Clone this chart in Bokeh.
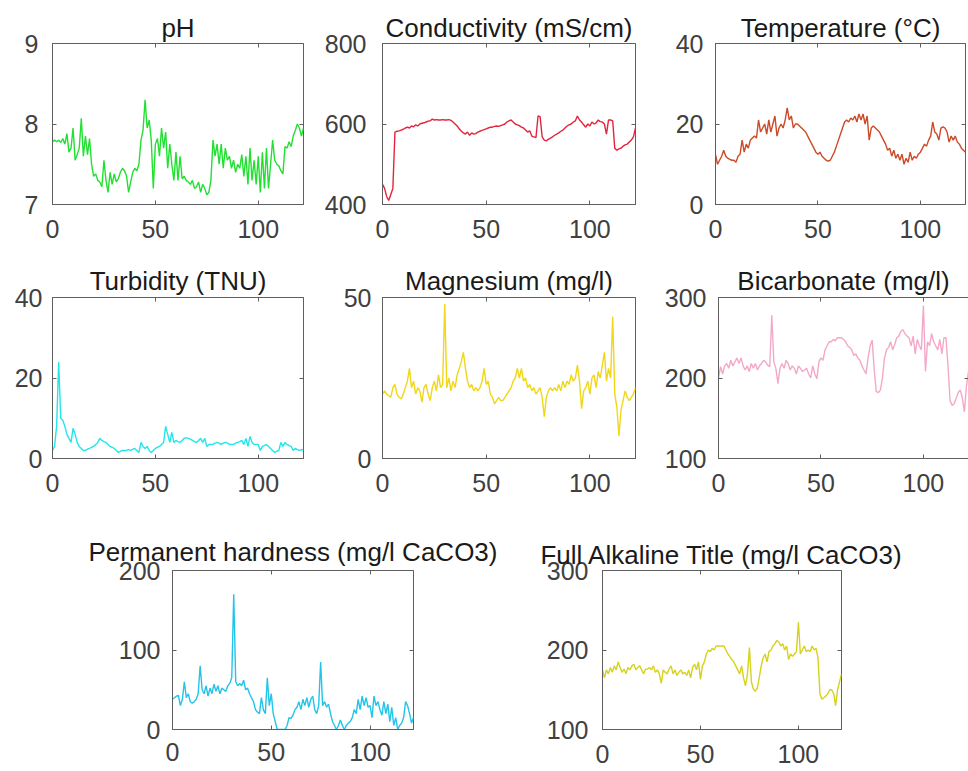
from bokeh.plotting import figure
from bokeh.layouts import column, row
from bokeh.models import FixedTicker, Range1d, LinearAxis, CustomJSTickFormatter
from bokeh.embed import file_html
from bokeh.resources import INLINE

x = list(range(123))

ph = [7.78, 7.80, 7.78, 7.80, 7.77, 7.82, 7.75, 7.88, 7.65, 7.70, 7.95, 7.55, 7.62, 7.70, 8.07, 7.60,
      7.85, 7.62, 7.82, 7.50, 7.35, 7.38, 7.30, 7.28, 7.22, 7.55, 7.30, 7.15, 7.40, 7.25, 7.38, 7.28,
      7.32, 7.40, 7.45, 7.42, 7.35, 7.15, 7.28, 7.40, 7.45, 7.42, 7.50, 7.80, 7.92, 8.30, 7.95, 8.05,
      7.80, 7.20, 7.75, 7.82, 7.60, 7.95, 7.70, 7.90, 7.45, 7.75, 7.50, 7.30, 7.65, 7.30, 7.60, 7.32,
      7.35, 7.30, 7.28, 7.25, 7.30, 7.20, 7.22, 7.28, 7.15, 7.25, 7.20, 7.12, 7.15, 7.30, 7.80, 7.60,
      7.75, 7.50, 7.75, 7.45, 7.70, 7.55, 7.60, 7.45, 7.55, 7.40, 7.50, 7.45, 7.62, 7.35, 7.60, 7.25,
      7.70, 7.30, 7.55, 7.25, 7.60, 7.15, 7.65, 7.20, 7.70, 7.20, 7.50, 7.80, 7.55, 7.50, 7.48, 7.42,
      7.38, 7.72, 7.70, 7.78, 7.72, 7.85, 7.92, 8.00, 7.95, 7.85, 7.95]

conductivity = [450, 440, 420, 410, 425, 440, 580, 582, 583, 585, 587, 590, 592, 590, 595, 593,
                598, 595, 600, 602, 603, 605, 607, 608, 612, 610, 611, 610, 610, 611, 610, 610,
                611, 609, 605, 600, 595, 588, 582, 578, 575, 580, 572, 578, 575, 576, 580, 582,
                584, 586, 588, 590, 592, 592, 594, 595, 594, 596, 598, 600, 605, 608, 610, 605,
                600, 598, 596, 592, 590, 585, 580, 583, 570, 568, 566, 620, 618, 568, 560, 558,
                562, 565, 568, 572, 575, 578, 582, 585, 590, 595, 598, 600, 605, 608, 620, 610,
                605, 598, 592, 600, 595, 605, 600, 603, 610, 606, 605, 600, 575, 610, 610, 608,
                540, 535, 538, 540, 545, 548, 550, 555, 560, 568, 590]

temperature = [12.4, 10.0, 11.0, 12.0, 13.5, 12.0, 11.5, 11.2, 11.0, 11.0, 10.5, 12.0, 12.5, 16.0,
               13.0, 15.0, 14.0, 16.0, 16.5, 17.0, 16.5, 21.0, 18.0, 19.0, 20.0, 17.5, 21.0, 18.0,
               20.0, 22.0, 17.0, 19.0, 20.0, 19.0, 21.0, 24.0, 21.0, 22.0, 19.0, 20.0, 20.0, 19.5,
               19.0, 18.5, 18.0, 17.0, 16.0, 15.0, 14.0, 13.0, 12.5, 13.0, 12.0, 11.5, 11.0, 10.8,
               11.0, 12.0, 13.0, 14.5, 16.0, 17.5, 19.0, 20.5, 21.0, 20.5, 21.5, 21.0, 22.0, 20.5,
               22.5, 21.0, 22.5, 20.0, 22.0, 16.0, 19.0, 19.5, 19.0, 18.5, 18.0, 17.0, 16.0, 15.0,
               13.5, 14.0, 12.0, 13.5, 11.5, 12.5, 11.0, 12.5, 10.0, 11.5, 10.5, 13.0, 11.0, 12.0,
               11.5, 12.5, 13.0, 14.0, 15.0, 14.5, 16.0, 17.0, 20.5, 18.0, 17.5, 16.0, 19.0, 19.3,
               19.0, 18.0, 15.5, 17.0, 16.0, 17.0, 15.5, 15.0, 14.0, 13.5, 13.0]

turbidity = [2, 3, 8, 24, 10, 9.5, 8, 6, 5, 4, 7.5, 6, 4, 3, 2.5, 2, 2, 2.3, 2.5, 2.8, 3, 3.5, 4, 5,
             4.5, 4.2, 4, 3.5, 3, 2.8, 2.5, 2, 1.5, 1.8, 2, 2, 2, 2.2, 2, 2.3, 2.5, 2, 1.5, 4, 3,
             2.5, 3, 2, 1.5, 2, 2.5, 2.8, 3, 3.5, 4, 8, 6, 4, 6.5, 4, 4.5, 4.2, 4, 4.5, 5, 5.2, 5,
             4.8, 4.5, 4.2, 4, 4.5, 5, 4, 5, 3, 3.5, 3.5, 3.5, 3.8, 4, 3.8, 3.5, 3.8, 4, 3.8, 3.5,
             3.5, 3.5, 3.8, 4, 4.2, 4.5, 3.5, 5, 3, 5.5, 4, 3.5, 3.5, 3.5, 2, 3, 3.2, 3.5, 3, 2.5,
             2, 1.5, 1.8, 2, 4, 3, 4, 3.5, 3.2, 3, 2, 2.5, 2.2, 2, 2.2, 2]

magnesium = [20, 21, 20, 19.5, 19, 22, 23, 20, 19, 18.5, 20, 22, 24, 28, 22, 24, 20, 22, 21, 17.5,
             22, 23, 20, 18, 22, 24, 21, 26, 22, 23, 48, 22, 25, 21, 24, 22, 26, 28, 30, 33, 28,
             24, 22, 23, 21, 22, 21, 22, 24, 28, 23, 24, 20, 19, 17, 18, 19, 18, 18, 19, 20, 21,
             22, 24, 25, 28, 25, 28, 24, 25, 22, 23, 21, 22, 20, 21, 22, 19, 13, 19, 21, 22, 21,
             22, 21, 23, 21, 24, 22, 24, 23, 26, 24, 25, 29, 24, 15.5, 21, 22, 24, 20, 25, 26, 22,
             27, 25, 29, 33, 24, 28, 25, 44, 20, 16, 7, 15, 18, 21, 19, 18, 19, 20, 22]

bicarbonate = [200, 214, 205, 215, 218, 212, 222, 215, 220, 225, 218, 225, 215, 210, 215, 208, 218,
               212, 218, 210, 215, 218, 222, 220, 216, 214, 278, 220, 212, 193, 212, 218, 212, 222,
               218, 210, 215, 212, 205, 215, 212, 208, 210, 212, 205, 200, 215, 205, 199, 220, 225,
               222, 235, 240, 245, 245, 248, 246, 250, 250, 250, 248, 245, 240, 238, 235, 228, 230,
               225, 222, 215, 210, 205, 225, 240, 247, 210, 183, 182, 185, 200, 225, 235, 238, 245,
               235, 242, 250, 252, 258, 260, 255, 252, 250, 240, 252, 230, 248, 240, 235, 290, 208,
               245, 240, 255, 245, 240, 235, 248, 230, 250, 250, 215, 172, 166, 168, 175, 182, 185,
               175, 158, 190, 208]

perm_hardness = [38, 40, 42, 43, 30, 38, 60, 40, 45, 35, 33, 35, 38, 45, 80, 50, 45, 55, 42, 52, 45,
                 57, 48, 55, 45, 52, 50, 48, 55, 58, 65, 170, 60, 55, 58, 55, 62, 50, 52, 45, 40, 35,
                 25, 22, 20, 40, 25, 20, 65, 30, 45, 20, 10, 0, 0, 0, 0, 0, 5, 15, 14, 18, 25, 28, 35,
                 25, 38, 30, 40, 28, 38, 42, 25, 20, 30, 85, 30, 35, 28, 32, 20, 10, 5, 0, 5, 12, 5,
                 0, 5, 8, 10, 15, 25, 20, 38, 25, 42, 30, 40, 28, 30, 15, 42, 30, 35, 25, 18, 35, 20,
                 32, 10, 28, 5, 15, 0, 5, 8, 15, 35, 30, 20, 8, 15]

full_alkaline = [175, 165, 175, 170, 178, 172, 180, 175, 185, 178, 172, 176, 170, 178, 175, 180, 182,
                 175, 178, 180, 175, 170, 176, 176, 178, 175, 180, 172, 175, 170, 158, 175, 172, 170,
                 176, 180, 170, 175, 168, 172, 175, 170, 172, 168, 175, 165, 178, 182, 175, 185, 163,
                 180, 185, 195, 200, 198, 202, 200, 205, 205, 205, 205, 205, 200, 195, 192, 188, 185,
                 180, 175, 170, 180, 165, 155, 170, 203, 160, 151, 148, 152, 165, 180, 190, 195, 185,
                 198, 200, 205, 208, 212, 210, 205, 208, 200, 205, 188, 195, 192, 195, 198, 235, 195,
                 200, 205, 198, 200, 198, 205, 200, 202, 190, 145, 138, 140, 142, 145, 150, 150, 145,
                 130, 150, 160, 170]

X_TICKS = [0, 50, 100]

FONT = "Liberation Sans"
TICK_COLOR = "#404040"
BOX_COLOR = "#5f5f5f"


def mirror_axis(ticks):
    return LinearAxis(ticker=FixedTicker(ticks=ticks),
                      formatter=CustomJSTickFormatter(code="return ''"),
                      axis_line_color=None, major_tick_line_color=BOX_COLOR,
                      major_tick_in=4, major_tick_out=0, minor_tick_line_color=None,
                      major_label_standoff=0, major_label_text_font_size="1px")


def panel(title, y, color, y_lo, y_hi, yticks, fw, fh, left, right, top, bottom,
          title_standoff, ylab_standoff, xlab_standoff):
    p = figure(frame_width=fw, frame_height=fh,
               min_border_left=left, min_border_right=right,
               min_border_top=top, min_border_bottom=bottom,
               x_range=Range1d(0, 122), y_range=Range1d(y_lo, y_hi),
               output_backend="svg", toolbar_location=None, title=title)
    p.line(x, y, line_color=color, line_width=1.4)
    p.title.text_font = FONT
    p.title.text_font_size = "26px"
    p.title.text_font_style = "normal"
    p.title.text_color = "#1a1a1a"
    p.title.align = "center"
    p.title.standoff = title_standoff
    p.grid.visible = False
    p.outline_line_color = BOX_COLOR
    p.outline_line_alpha = 1
    p.background_fill_color = "white"
    p.border_fill_color = "white"
    p.xaxis.ticker = FixedTicker(ticks=X_TICKS)
    p.yaxis.ticker = FixedTicker(ticks=yticks)
    for ax, st in ((p.xaxis, xlab_standoff), (p.yaxis, ylab_standoff)):
        ax.major_label_text_font = FONT
        ax.major_label_text_font_size = "25px"
        ax.major_label_text_color = TICK_COLOR
        ax.major_label_standoff = st
        ax.axis_line_color = BOX_COLOR
        ax.major_tick_line_color = BOX_COLOR
        ax.major_tick_in = 4
        ax.major_tick_out = 0
        ax.minor_tick_line_color = None
    p.add_layout(mirror_axis(X_TICKS), "above")
    p.add_layout(mirror_axis(yticks), "right")
    return p


# row 1
p1 = panel("pH", ph, "#22e032", 7, 9, [7, 8, 9], 251, 161, 52, 15, 43, 50, 2, 14, 15)
p2 = panel("Conductivity (mS/cm)", conductivity, "#e4243c", 400, 800, [400, 600, 800],
           253, 161, 64, 26, 43, 50, 2, 16, 15)
p3 = panel("Temperature (°C)", temperature, "#cc4a28", 0, 40, [0, 20, 40],
           250, 161, 54, 2, 43, 50, 2, 12, 15)
# row 2
p4 = panel("Turbidity (TNU)", turbidity, "#22e6ea", 0, 40, [0, 20, 40], 251, 161, 52, 15, 43, 62, 3, 10, 15)
p5 = panel("Magnesium (mg/l)", magnesium, "#f2d618", 0, 50, [0, 50], 253, 161, 64, 26, 43, 62, 3, 11, 15)
p6 = panel("Bicarbonate (mg/l)", bicarbonate, "#f4a8c8", 100, 300, [100, 200, 300],
           250, 161, 54, 2, 43, 62, 3, 12, 15)
# row 3
p7 = panel("Permanent hardness (mg/l CaCO3)", perm_hardness, "#22c4ea", 0, 200, [0, 100, 200],
           241, 159, 172, 122, 50, 41, 7, 12, 13)
p8 = panel("Full Alkaline Title (mg/l CaCO3)", full_alkaline, "#d6d21e", 100, 300, [100, 200, 300],
           239, 159, 67, 70, 48, 43, 2, 14, 15)

layout = column(row(p1, p2, p3, spacing=0), row(p4, p5, p6, spacing=0), row(p7, p8, spacing=0), spacing=0)

open("out.html", "w").write(file_html(layout, INLINE))
